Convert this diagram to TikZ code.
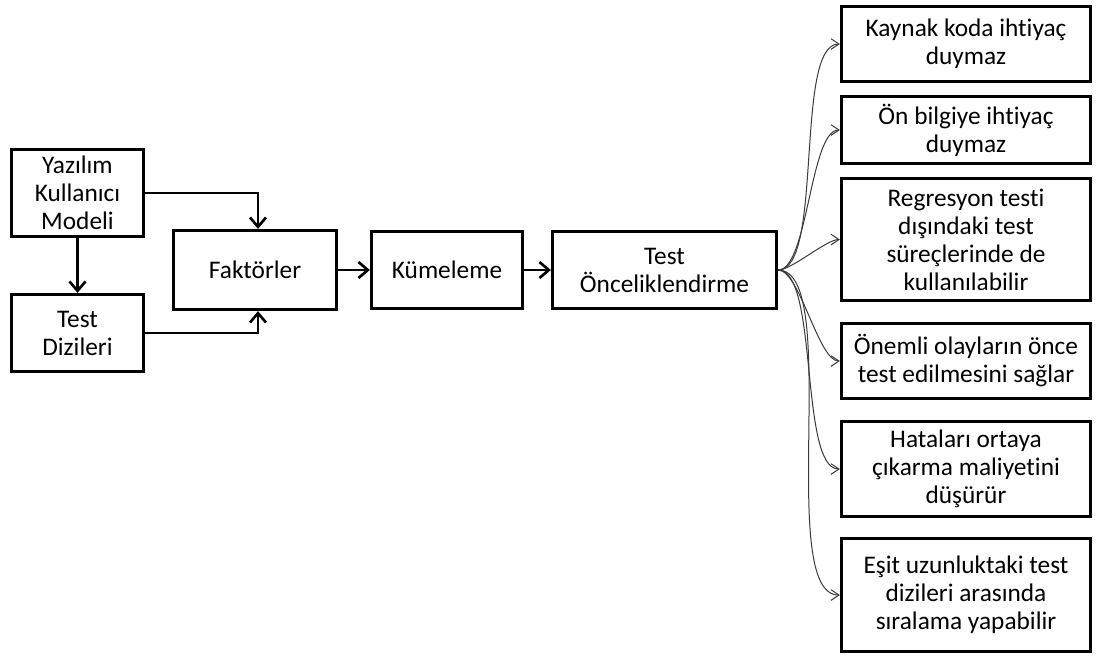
\documentclass[tikz,border=0pt]{standalone}
\usepackage{fontspec}
\setmainfont{Carlito}[Ligatures=NoCommon]
\usetikzlibrary{arrows.meta,positioning}
\definecolor{fanline}{HTML}{3A3A3A}

\begin{document}
\begin{tikzpicture}[x=0.75pt, y=-0.75pt,
    box/.style={draw=black, line width=2.2pt, align=center, inner sep=2pt,
                font=\fontsize{19}{21}\selectfont},
    res/.style={box, minimum width=187pt},
    arr/.style={-{Straight Barb[length=7pt,width=12pt]}, line width=2pt},
    fan/.style={-{Straight Barb[length=6pt,width=8pt]}, fanline, line width=0.75pt}]
    \useasboundingbox (0,0) rectangle (1101,658);
    % left chain
    \node[box, minimum width=99pt, minimum height=65.5pt] (ykm) at (77.5,193) {Yazılım\\Kullanıcı\\Modeli};
    \node[box, minimum width=99pt, minimum height=58pt] (td) at (77.5,333) {Test\\Dizileri};
    \node[box, minimum width=122.5pt, minimum height=59.5pt] (fak) at (255,270) {Faktörler};
    \node[box, minimum width=113.5pt, minimum height=58pt] (kum) at (447,270) {Kümeleme};
    \node[box, minimum width=168.25pt, minimum height=58pt] (onc) at (664.5,270) {Test\\Önceliklendirme};
    \draw[arr] (ykm.south) -- (td.north);
    \draw[arr] (ykm.east) -| ([xshift=2.25pt]fak.north);
    \draw[arr] (td.east) -| ([xshift=2.25pt]fak.south);
    \draw[arr] (fak) -- (kum);
    \draw[arr] (kum) -- (onc);
    % results column
    \node[res, minimum height=56.5pt] (r1) at (966,44) {Kaynak koda ihtiyaç\\duymaz};
    \node[res, minimum height=50.5pt] (r2) at (966,130) {Ön bilgiye ihtiyaç\\duymaz};
    \node[res, minimum height=91.75pt] (r3) at (966,239.5) {Regresyon testi\\dışındaki test\\süreçlerinde de\\kullanılabilir};
    \node[res, minimum height=56.5pt] (r4) at (966,361) {Önemli olayların önce\\test edilmesini sağlar};
    \node[res, minimum height=71.5pt] (r5) at (966,469) {Hataları ortaya\\çıkarma maliyetini\\düşürür};
    \node[res, minimum height=85pt] (r6) at (966,595) {Eşit uzunluktaki test\\dizileri arasında\\sıralama yapabilir};
    \foreach \i in {1,...,6}
      \draw[fan] (onc.east) to[out=0, in=180, looseness=0.5] (r\i.west);
\end{tikzpicture}
\end{document}
